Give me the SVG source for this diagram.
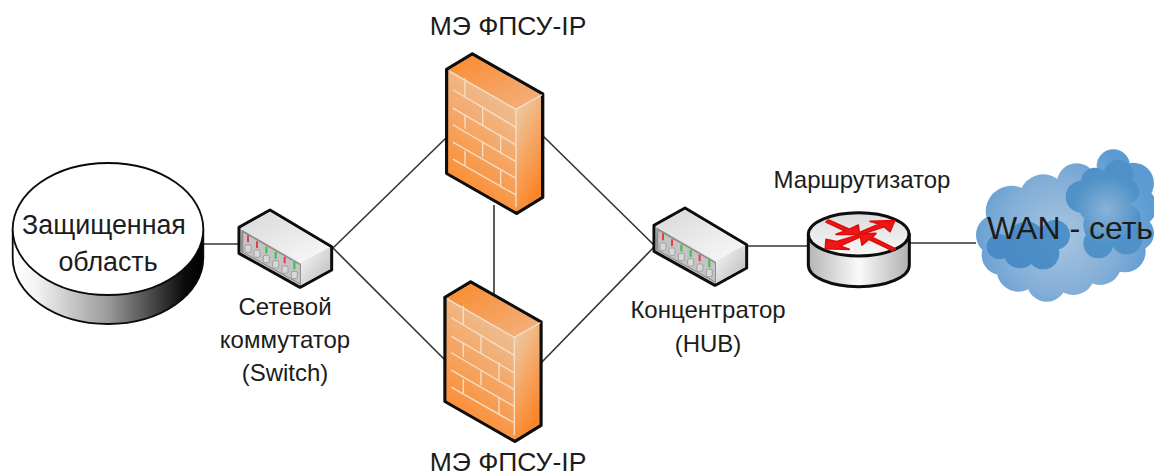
<svg xmlns="http://www.w3.org/2000/svg" xmlns:xlink="http://www.w3.org/1999/xlink" width="1154" height="476" viewBox="0 0 1154 476">
<style>
text{font-family:"Liberation Sans",Arial,sans-serif;fill:#1c1c1c;text-anchor:middle}
.lb{font-size:24px}
.me{font-size:26.500px}
.big{font-size:26.800px}
.conn line{stroke:#333;stroke-width:1.6}
.ol{stroke:#0a0a0a;stroke-linejoin:round}
.brick{stroke:#f5dfc6;stroke-width:4;fill:none;stroke-linecap:round}
.red{fill:#f01414;stroke:#e01010;stroke-width:5;stroke-linejoin:round}
</style>
<defs>
<filter id="soft" x="-5%" y="-5%" width="110%" height="110%"><feGaussianBlur stdDeviation="0.45"/></filter>
<filter id="softer" x="-5%" y="-5%" width="110%" height="110%"><feGaussianBlur stdDeviation="1"/></filter>
<linearGradient id="fwTop" x1="0" y1="0" x2="1" y2="1"><stop offset="0" stop-color="#fa8a2c"/><stop offset="1" stop-color="#f3b283"/></linearGradient>
<linearGradient id="fwFront" gradientUnits="userSpaceOnUse" x1="240" y1="190" x2="60" y2="400"><stop offset="0" stop-color="#eebd92"/><stop offset="1" stop-color="#fb8f38"/></linearGradient>
<linearGradient id="fwSide" x1="0" y1="0" x2="0.4" y2="1"><stop offset="0" stop-color="#ecd0b0"/><stop offset="1" stop-color="#fb862a"/></linearGradient>
<linearGradient id="swTop" x1="0" y1="0" x2="1" y2="1"><stop offset="0" stop-color="#d8d8d8"/><stop offset="1" stop-color="#fafafa"/></linearGradient>
<linearGradient id="swSide" x1="0" y1="0" x2="1" y2="1"><stop offset="0" stop-color="#fafafa"/><stop offset="1" stop-color="#b8b8b8"/></linearGradient>
<linearGradient id="disk" x1="0" y1="0" x2="1" y2="0"><stop offset="0" stop-color="#fff"/><stop offset="0.12" stop-color="#f4f4f4"/><stop offset="0.5" stop-color="#9a9a9a"/><stop offset="0.9" stop-color="#0c0c0c"/><stop offset="1" stop-color="#000"/></linearGradient>
<linearGradient id="rtSide" x1="0" y1="0" x2="1" y2="0"><stop offset="0" stop-color="#b5b5b5"/><stop offset="0.5" stop-color="#fafafa"/><stop offset="1" stop-color="#b0b0b0"/></linearGradient>
<linearGradient id="rtTop" x1="0" y1="0" x2="0" y2="1"><stop offset="0" stop-color="#dcdcdc"/><stop offset="1" stop-color="#f8f8f8"/></linearGradient>
<radialGradient id="cloudOut" gradientUnits="userSpaceOnUse" cx="300" cy="290" r="290"><stop offset="0" stop-color="#aac6e0"/><stop offset="0.6" stop-color="#82aed7"/><stop offset="1" stop-color="#5b9ad2"/></radialGradient>
<radialGradient id="cloudIn" gradientUnits="userSpaceOnUse" cx="440" cy="210" r="330"><stop offset="0" stop-color="#8ab3d8"/><stop offset="0.3" stop-color="#5092c8"/><stop offset="1" stop-color="#4a8bc6"/></radialGradient>
<g id="fw">
<path class="ol" fill="url(#fwFront)" stroke-width="10" d="M127 42L50 88V400L260 520L338 472V162Z"/>
<path fill="url(#fwTop)" d="M127 47L56 90L258 208L333 164Z"/>
<path fill="url(#fwSide)" d="M258 208L333 164V469L260 514Z"/>
<path fill="url(#fwFront)" d="M56 90L258 208V514L55 398Z"/>
<path class="brick" d="M60 95L258 208L335 165M258 208V500M70 150L258 262M70 205L258 315M70 255L258 365M70 307L258 415M70 358L258 465M105 115V168M158 200V255M105 225V265M212 285V340M158 305V350M105 335V375M212 390V440"/>
</g>
<g id="sw">
<path class="ol" fill="#e8e8e8" stroke-width="9" d="M210 60L117 112V190L300 292L395 240V170Z"/>
<path fill="url(#swTop)" d="M210 66L124 113L303 218L388 172Z"/>
<path fill="url(#swSide)" d="M303 218L390 172V237L303 286Z"/>
<path fill="#8f8f8f" d="M124 118L303 222V286L122 186Z"/>
<path fill="#c4c4c4" d="M130 128L300 226V280L130 186Z"/>
<g fill="#d8d8d8" stroke="#8a8a8a" stroke-width="2">
<rect x="135" y="165" width="18" height="22" rx="5"/><rect x="162" y="180" width="18" height="22" rx="5"/><rect x="190" y="196" width="18" height="22" rx="5"/><rect x="218" y="212" width="18" height="22" rx="5"/><rect x="246" y="228" width="18" height="22" rx="5"/><rect x="274" y="244" width="18" height="22" rx="5"/>
</g>
<g stroke-width="6" fill="none">
<path stroke="#ee3a44" d="M144 136V157M171 154V174M254 200V220"/>
<path stroke="#36c24a" d="M199 170V190M227 186V206M283 216V238"/>
</g>
</g>
</defs>

<g id="connectors" class="conn">
<line x1="204" y1="244" x2="240" y2="244"/>
<line x1="333" y1="248" x2="447" y2="137"/>
<line x1="333" y1="248" x2="445" y2="360"/>
<line x1="494" y1="205" x2="494" y2="295"/>
<line x1="542" y1="135" x2="655" y2="246"/>
<line x1="542" y1="362" x2="655" y2="246"/>
<line x1="748" y1="246" x2="808" y2="246"/>
<line x1="910" y1="243" x2="976" y2="243"/>
</g>

<g id="zone">
<path class="ol" fill="url(#disk)" stroke-width="1.8" d="M12.700 229V258C12.700 294 55 324 108 324S203.300 294 203.300 258V229Z"/>
<ellipse class="ol" cx="108" cy="229" rx="95.300" ry="66" fill="#fff" stroke-width="1.8"/>
<text class="big" x="104" y="234">Защищенная</text>
<text class="big" x="108" y="271">область</text>
</g>

<g id="switch">
<use href="#sw" transform="translate(200 190) scale(.33333)" filter="url(#soft)"/>
<text class="lb" x="285" y="315">Сетевой</text>
<text class="lb" x="285" y="348">коммутатор</text>
<text class="lb" x="285" y="381">(Switch)</text>
</g>

<g id="firewall-top">
<text class="me" x="508" y="35">МЭ ФПСУ-IP</text>
<use href="#fw" transform="translate(430 40) scale(.33333)" filter="url(#soft)"/>
</g>

<g id="firewall-bottom">
<use href="#fw" transform="translate(428.300 268) scale(.33333)" filter="url(#soft)"/>
<text class="me" x="508" y="471">МЭ ФПСУ-IP</text>
</g>

<g id="hub">
<use href="#sw" transform="translate(615 188) scale(.33333)" filter="url(#soft)"/>
<text class="lb" x="708" y="318">Концентратор</text>
<text class="lb" x="708" y="352">(HUB)</text>
</g>

<g id="router">
<text class="lb" x="862" y="188">Маршрутизатор</text>
<g transform="translate(790 200) scale(.33333)" filter="url(#soft)">
<path class="ol" fill="url(#rtSide)" stroke-width="9" d="M55 103V195C55 232 122 260 206 260S358 232 358 195V103Z"/>
<ellipse class="ol" cx="206" cy="103" rx="151" ry="65" fill="url(#rtTop)" stroke-width="9"/>
<path class="red" d="M108 66L116 60L178 88L205 75L208 103L138 103L165 93Z"/>
<path class="red" d="M215 103L210 97L268 72L240 64L314 62L300 95L282 80Z"/>
<path class="red" d="M106 146L108 118L140 125L205 105L208 112L150 138L178 148Z"/>
<path class="red" d="M210 102L258 100L246 112L316 146L308 152L236 118L216 135Z"/>
</g>
</g>

<g id="cloud">
<g transform="translate(960 140) scale(.33333)" filter="url(#softer)">
<g fill="url(#cloudOut)">
<circle cx="110" cy="285" r="62"/><circle cx="155" cy="215" r="78"/><circle cx="250" cy="175" r="72"/><circle cx="350" cy="130" r="60"/><circle cx="460" cy="78" r="50"/><circle cx="520" cy="130" r="62"/><circle cx="530" cy="200" r="60"/><circle cx="530" cy="280" r="52"/><circle cx="495" cy="335" r="62"/><circle cx="420" cy="370" r="65"/><circle cx="340" cy="400" r="65"/><circle cx="260" cy="425" r="60"/><circle cx="175" cy="390" r="65"/><circle cx="125" cy="345" r="60"/><circle cx="250" cy="300" r="130"/><circle cx="420" cy="250" r="130"/>
</g>
<g fill="url(#cloudIn)">
<circle cx="118" cy="320" r="38"/><circle cx="180" cy="335" r="50"/><circle cx="250" cy="340" r="48"/><circle cx="285" cy="285" r="45"/><circle cx="200" cy="300" r="55"/>
<circle cx="365" cy="170" r="48"/><circle cx="405" cy="125" r="42"/><circle cx="475" cy="105" r="45"/><circle cx="500" cy="155" r="38"/><circle cx="430" cy="180" r="80"/><circle cx="500" cy="235" r="42"/><circle cx="415" cy="310" r="45"/><circle cx="500" cy="295" r="48"/><circle cx="430" cy="255" r="60"/>
</g>
</g>
<text x="1070" y="239" font-size="32">WAN - сеть</text>
</g>
</svg>
